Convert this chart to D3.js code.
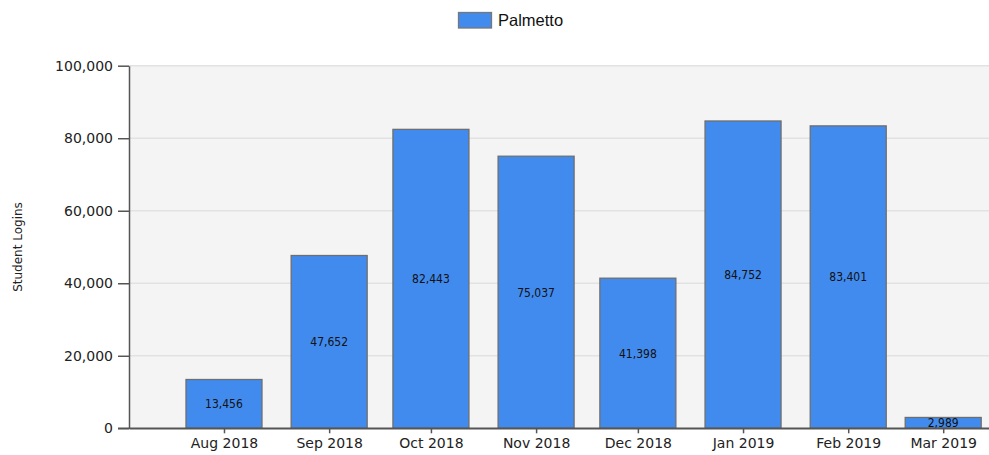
<!DOCTYPE html>
<html>
<head>
<meta charset="utf-8">
<script src="https://cdn.jsdelivr.net/npm/d3@7"></script>
<style>
  html, body { margin: 0; padding: 0; background: #fff; }
  svg { display: block; }
</style>
</head>
<body>
<svg id="chart" width="989" height="455"></svg>
<script>
const months = ["2018-08", "2018-09", "2018-10", "2018-11", "2018-12", "2019-01", "2019-02", "2019-03"];
const logins = [13456, 47652, 82443, 75037, 41398, 84752, 83401, 2989];
const yTicks = [0, 20000, 40000, 60000, 80000, 100000];
const seriesName = "Palmetto";
const yTitle = "Student Logins";

const parse = d3.timeParse("%Y-%m");
const data = months.map((m, i) => ({ date: parse(m), value: logins[i] }));

const svg = d3.select("#chart");
const pLeft = 129, pRight = 989, pTop = 65.7, pBottom = 428.3;
const barColor = "#428BEE";
const barStroke = "#6e6e6e";

const x = d3.scaleTime()
  .domain([new Date(2018, 6, 4), new Date(2019, 2, 14, 12)])
  .range([pLeft, pRight]);
const y = d3.scaleLinear().domain([0, 100000]).range([pBottom, pTop]);

// plot background
svg.append("rect")
  .attr("x", pLeft).attr("y", pTop)
  .attr("width", pRight - pLeft).attr("height", pBottom - pTop)
  .attr("fill", "#f4f4f4");

// gridlines
svg.append("g").selectAll("line")
  .data(yTicks.filter(d => d > 0))
  .join("line")
  .attr("x1", pLeft).attr("x2", pRight)
  .attr("y1", d => y(d)).attr("y2", d => y(d))
  .attr("stroke", "#e2e2e2").attr("stroke-width", 1.5);

// bars
const barW = 76;
svg.append("g").selectAll("rect")
  .data(data)
  .join("rect")
  .attr("x", d => x(d.date) - barW / 2)
  .attr("y", d => y(d.value))
  .attr("width", barW)
  .attr("height", d => y(0) - y(d.value))
  .attr("fill", barColor)
  .attr("stroke", barStroke)
  .attr("stroke-width", 1.3);

// bar value labels
svg.append("g").selectAll("text")
  .data(data)
  .join("text")
  .attr("x", d => x(d.date))
  .attr("y", d => (y(d.value) + y(0)) / 2)
  .attr("dy", "0.36em")
  .attr("text-anchor", "middle")
  .attr("font-family", "'DejaVu Sans Condensed', 'DejaVu Sans', sans-serif")
  .attr("font-size", 12)
  .attr("fill", "#111")
  .text(d => d3.format(",")(d.value));

// y axis
const yAxis = d3.axisLeft(y).tickValues(yTicks).tickFormat(d3.format(",")).tickSize(11).tickSizeOuter(0).tickPadding(5);
const gy = svg.append("g").attr("transform", `translate(${pLeft},0)`).call(yAxis);
gy.select(".domain").attr("stroke", "#555").attr("stroke-width", 1.5);
gy.selectAll(".tick line").attr("stroke", "#555").attr("stroke-width", 1.5);
gy.selectAll(".tick text")
  .attr("font-family", "'DejaVu Sans', Verdana, sans-serif")
  .attr("font-size", 14).attr("fill", "#222");

// x axis
const xAxis = d3.axisBottom(x).tickValues(data.map(d => d.date)).tickFormat(d3.timeFormat("%b %Y")).tickSize(5).tickSizeOuter(0).tickPadding(5);
const gx = svg.append("g").attr("transform", `translate(0,${pBottom})`).call(xAxis);
gx.select(".domain").attr("stroke", "#555").attr("stroke-width", 1.5);
gx.selectAll(".tick line").attr("stroke", "#555").attr("stroke-width", 1.5);
gx.selectAll(".tick text")
  .attr("font-family", "'DejaVu Sans', Verdana, sans-serif")
  .attr("font-size", 14).attr("fill", "#222");
// extend x axis line leftwards to meet the 0 tick
svg.append("line")
  .attr("x1", pLeft - 11).attr("x2", pRight)
  .attr("y1", pBottom).attr("y2", pBottom)
  .attr("stroke", "#555").attr("stroke-width", 1.5);

// y title
svg.append("text")
  .attr("transform", `translate(22,${(pTop + pBottom) / 2}) rotate(-90)`)
  .attr("text-anchor", "middle")
  .attr("font-family", "'DejaVu Sans', Verdana, sans-serif")
  .attr("font-size", 12).attr("fill", "#222")
  .text(yTitle);

// legend
const lg = svg.append("g");
lg.append("rect")
  .attr("x", 458.5).attr("y", 12.5).attr("width", 33).attr("height", 15.5)
  .attr("fill", barColor).attr("stroke", "#777").attr("stroke-width", 1.3);
lg.append("text")
  .attr("x", 498).attr("y", 20.5).attr("dy", "0.35em")
  .attr("font-family", "'Liberation Sans', Arial, sans-serif")
  .attr("font-size", 16.5).attr("fill", "#111")
  .text(seriesName);
</script>
</body>
</html>
